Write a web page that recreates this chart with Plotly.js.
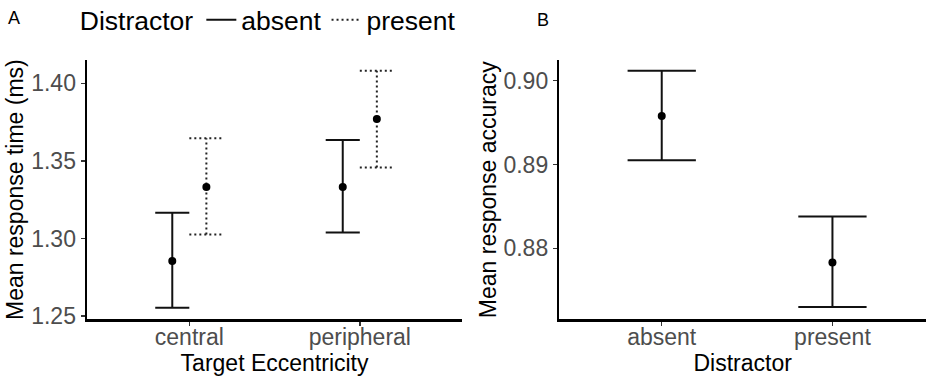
<!DOCTYPE html>
<html>
<head>
<meta charset="utf-8">
<script src="https://cdn.plot.ly/plotly-3.0.1.min.js"></script>
<style>html,body{margin:0;padding:0;background:#fff;}#chart{width:926px;height:379px;}</style>
</head>
<body>
<div id="chart"></div>
<script>
// Panel A: response time by target eccentricity and distractor
const eccCats = ['central', 'peripheral'];
const rtAbsentMean = [1.2855, 1.3332];
const rtAbsentLo = [1.2554, 1.3038];
const rtAbsentHi = [1.3165, 1.3634];
const rtPresentMean = [1.3332, 1.3769];
const rtPresentLo = [1.3025, 1.3457];
const rtPresentHi = [1.3645, 1.4080];
const rtTicks = [1.25, 1.30, 1.35, 1.40];

// Panel B: response accuracy by distractor
const distCats = ['absent', 'present'];
const accMean = [0.8958, 0.8783];
const accLo = [0.8905, 0.8730];
const accHi = [0.9012, 0.8838];
const accTicks = [0.88, 0.89, 0.90];

const legendNames = ['absent', 'present'];

function errLines(xs, lo, hi, hw) {
  const x = [], y = [];
  xs.forEach((xc, i) => {
    x.push(xc, xc, null, xc - hw, xc + hw, null, xc - hw, xc + hw, null);
    y.push(lo[i], hi[i], null, hi[i], hi[i], null, lo[i], lo[i], null);
  });
  return {x, y};
}

const dodge = 0.1;
const xA = eccCats.map((c, i) => i - dodge);
const xP = eccCats.map((c, i) => i + dodge);
const xB = distCats.map((c, i) => i);

const eA = errLines(xA, rtAbsentLo, rtAbsentHi, 0.1);
const eP = errLines(xP, rtPresentLo, rtPresentHi, 0.1);
const eB = errLines(xB, accLo, accHi, 0.2);

const lineW = 2;
const traces = [
  {x: eA.x, y: eA.y, mode: 'lines', line: {color: '#111', width: lineW}, showlegend: false, hoverinfo: 'skip'},
  {x: eP.x, y: eP.y, mode: 'lines', line: {color: '#222', width: lineW, dash: '2px,3px'}, showlegend: false, hoverinfo: 'skip'},
  {x: xA, y: rtAbsentMean, mode: 'markers', marker: {color: '#000', size: 8}, showlegend: false},
  {x: xP, y: rtPresentMean, mode: 'markers', marker: {color: '#000', size: 8}, showlegend: false},
  {x: eB.x, y: eB.y, xaxis: 'x2', yaxis: 'y2', mode: 'lines', line: {color: '#111', width: lineW}, showlegend: false, hoverinfo: 'skip'},
  {x: xB, y: accMean, xaxis: 'x2', yaxis: 'y2', mode: 'markers', marker: {color: '#000', size: 8}, showlegend: false},
  {x: [null], y: [null], mode: 'lines', name: legendNames[0], line: {color: '#111', width: lineW}},
  {x: [null], y: [null], mode: 'lines', name: legendNames[1], line: {color: '#222', width: lineW, dash: '2px,3px'}}
];

const FAM = 'Liberation Sans, Arial, sans-serif';
const tickFont = {family: FAM, size: 23, color: '#4d4d4d'};
const xTitleFont = {family: FAM, size: 23, color: '#000'};
const yTitleFont = {family: FAM, size: 23, color: '#000'};
const axBase = {
  showline: true, linecolor: '#000', linewidth: 2.5, showgrid: false, zeroline: false,
  ticks: 'outside', ticklen: 4, tickwidth: 1.5, tickcolor: '#333', tickfont: tickFont
};

const layout = {
  width: 926, height: 379,
  margin: {l: 0, r: 0, t: 0, b: 0, autoexpand: false},
  paper_bgcolor: '#fff', plot_bgcolor: '#fff',
  font: {family: FAM, color: '#000'},
  showlegend: true,
  legend: {
    orientation: 'h', x: 0.084, xanchor: 'left',
    yref: 'container', y: 1 - 20 / 379, yanchor: 'middle',
    title: {text: 'Distractor', font: {size: 26.5, color: '#000'}},
    font: {size: 26.5, color: '#000'}, itemwidth: 30, bgcolor: 'rgba(0,0,0,0)'
  },
  xaxis: Object.assign({}, axBase, {
    domain: [0.094, 0.499], anchor: 'y', range: [-0.6, 1.6],
    tickmode: 'array', tickvals: eccCats.map((c, i) => i), ticktext: eccCats,
    ticklabelstandoff: -8,
    title: {text: 'Target Eccentricity', font: xTitleFont, standoff: 0}
  }),
  yaxis: Object.assign({}, axBase, {
    domain: [0.1575, 0.8417], anchor: 'x', range: [1.2479, 1.415],
    tickmode: 'array', tickvals: rtTicks, ticktext: rtTicks.map(v => v.toFixed(2)),
    title: {text: 'Mean response time (ms)', font: yTitleFont, standoff: 1}
  }),
  xaxis2: Object.assign({}, axBase, {
    domain: [0.604, 1.0], anchor: 'y2', range: [-0.6, 1.548],
    tickmode: 'array', tickvals: xB, ticktext: distCats,
    ticklabelstandoff: -8,
    title: {text: 'Distractor', font: xTitleFont, standoff: 0}
  }),
  yaxis2: Object.assign({}, axBase, {
    domain: [0.1575, 0.8417], anchor: 'x2', range: [0.87153, 0.90247],
    tickmode: 'array', tickvals: accTicks, ticktext: accTicks.map(v => v.toFixed(2)),
    title: {text: 'Mean response accuracy', font: yTitleFont, standoff: 1}
  }),
  annotations: [
    {text: 'A', xref: 'paper', yref: 'paper', x: 14 / 926, y: 1 - 18 / 379, xanchor: 'center', yanchor: 'middle', showarrow: false, font: {size: 18, color: '#000'}},
    {text: 'B', xref: 'paper', yref: 'paper', x: 543 / 926, y: 1 - 20 / 379, xanchor: 'center', yanchor: 'middle', showarrow: false, font: {size: 18, color: '#000'}}
  ]
};

Plotly.newPlot('chart', traces, layout, {displayModeBar: false, staticPlot: true});
</script>
</body>
</html>
